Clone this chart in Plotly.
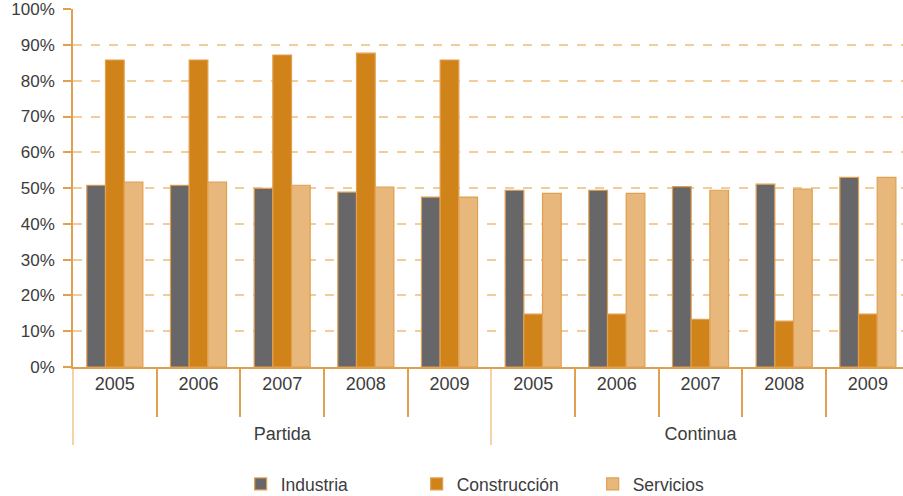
import plotly.graph_objects as go

groups = ["Partida"] * 5 + ["Continua"] * 5
years = ["2005", "2006", "2007", "2008", "2009"] * 2

industria = [50.8, 50.8, 49.9, 48.9, 47.5, 49.4, 49.4, 50.4, 51.1, 53.0]
construccion = [85.8, 85.8, 87.2, 87.7, 85.8, 14.8, 14.8, 13.3, 12.8, 14.8]
servicios = [51.7, 51.7, 50.8, 50.3, 47.5, 48.5, 48.5, 49.4, 49.7, 53.0]

y_ticks = [0, 10, 20, 30, 40, 50, 60, 70, 80, 90, 100]
y_tick_labels = [f"{v}%" for v in y_ticks]

ORANGE_LINE = "#e0a050"
GRID = "#f2cc9a"
TEXT = "#3c3c3c"
FONT = "Liberation Sans"

# inner labels get an extra (taller) blank line so the group labels sit lower
x = [groups, [y + "<br><span style='font-size:40px'>&nbsp;</span>" for y in years]]

fig = go.Figure()
for name, vals, color in [
    ("Industria", industria, "#67676a"),
    ("Construcción", construccion, "#d08318"),
    ("Servicios", servicios, "#e8b77c"),
]:
    fig.add_trace(go.Bar(
        x=x, y=vals, name=name,
        marker=dict(color=color, line=dict(color=ORANGE_LINE, width=1.2)),
    ))

fig.update_layout(
    width=903, height=496,
    margin=dict(l=73, r=0, t=9, b=129, autoexpand=False),
    paper_bgcolor="white", plot_bgcolor="white",
    barmode="group", bargap=0.33, bargroupgap=0,
    font=dict(family=FONT, size=17, color=TEXT),
    showlegend=True,
    legend=dict(orientation="h", x=0.202, xanchor="left", y=-0.327, yanchor="middle",
                font=dict(size=17.5, color=TEXT), traceorder="normal",
                entrywidth=131, entrywidthmode="pixels"),
)
fig.update_xaxes(
    type="multicategory", automargin=False,
    range=[-0.5, 9.42],
    showline=True, linecolor=ORANGE_LINE, linewidth=1.5,
    ticks="outside", tickson="boundaries", ticklen=48, tickcolor=ORANGE_LINE, tickwidth=1.5,
    showdividers=True, dividercolor="#f3d3a8", dividerwidth=1.5,
    tickfont=dict(size=18, color=TEXT),
    showgrid=False,
)
fig.update_yaxes(
    range=[0, 100.05], automargin=False,
    tickvals=y_ticks, ticktext=y_tick_labels,
    showline=True, linecolor=ORANGE_LINE, linewidth=1.5,
    ticks="outside", ticklen=8, tickcolor=ORANGE_LINE, tickwidth=1.5,
    ticklabelstandoff=5,
    showgrid=True, gridcolor=GRID, griddash="dash", gridwidth=1.5,
    zeroline=False,
    tickfont=dict(size=17, color=TEXT),
)

fig.write_html(
    "out.html",
    config={"displayModeBar": False},
    post_script="document.body.style.margin='0';document.body.style.padding='0';document.body.style.overflow='hidden';",
)
